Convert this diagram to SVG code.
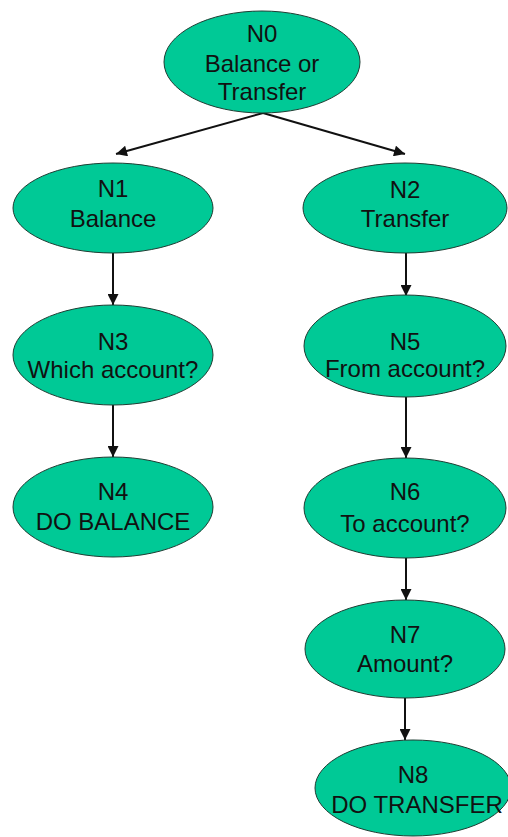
<svg xmlns="http://www.w3.org/2000/svg" width="508" height="837" viewBox="0 0 508 837">
  <style>
    .node ellipse { fill: #00C996; stroke: #1f3d33; stroke-width: 1; }
    .node text { font-family: "Liberation Sans", Arial, sans-serif; font-size: 24px; fill: #111; text-anchor: middle; }
    .edge { stroke: #111; stroke-width: 2; fill: none; marker-end: url(#arrow); }
  </style>
  <defs>
    <marker id="arrow" viewBox="0 0 10 10" refX="10" refY="5" markerWidth="6" markerHeight="5.5" orient="auto" markerUnits="strokeWidth">
      <path d="M0,0 L10,5 L0,10 z" fill="#111"/>
    </marker>
  </defs>
  <rect width="508" height="837" fill="#fff"/>

  <g id="connectors">
    <line class="edge" x1="263" y1="113" x2="116" y2="154"/>
    <line class="edge" x1="263" y1="113" x2="405" y2="154"/>
    <line class="edge" x1="113" y1="253" x2="113" y2="305"/>
    <line class="edge" x1="113" y1="405" x2="113" y2="457"/>
    <line class="edge" x1="406" y1="253" x2="406" y2="296"/>
    <line class="edge" x1="406" y1="397" x2="406" y2="458"/>
    <line class="edge" x1="406" y1="557" x2="406" y2="600"/>
    <line class="edge" x1="405" y1="698" x2="405" y2="740"/>
  </g>

  <g id="N0" class="node">
    <ellipse cx="262" cy="62" rx="98" ry="51"/>
    <text x="262" y="42">N0</text>
    <text x="262" y="72">Balance or</text>
    <text x="262" y="100">Transfer</text>
  </g>
  <g id="N1" class="node">
    <ellipse cx="113" cy="208" rx="100" ry="45"/>
    <text x="113" y="197">N1</text>
    <text x="113" y="227">Balance</text>
  </g>
  <g id="N2" class="node">
    <ellipse cx="405" cy="208" rx="102" ry="45"/>
    <text x="405" y="198">N2</text>
    <text x="405" y="227">Transfer</text>
  </g>
  <g id="N3" class="node">
    <ellipse cx="113" cy="355" rx="100" ry="50"/>
    <text x="113" y="350">N3</text>
    <text x="113" y="378">Which account?</text>
  </g>
  <g id="N4" class="node">
    <ellipse cx="113" cy="507" rx="100" ry="50"/>
    <text x="113" y="500">N4</text>
    <text x="113" y="530">DO BALANCE</text>
  </g>
  <g id="N5" class="node">
    <ellipse cx="405" cy="346" rx="101" ry="51"/>
    <text x="405" y="350">N5</text>
    <text x="405" y="377">From account?</text>
  </g>
  <g id="N6" class="node">
    <ellipse cx="405" cy="508" rx="101" ry="50"/>
    <text x="405" y="500">N6</text>
    <text x="405" y="532">To account?</text>
  </g>
  <g id="N7" class="node">
    <ellipse cx="405" cy="649" rx="100" ry="49"/>
    <text x="405" y="643">N7</text>
    <text x="405" y="672">Amount?</text>
  </g>
  <g id="N8" class="node">
    <ellipse cx="413" cy="788" rx="98" ry="48"/>
    <text x="413" y="783">N8</text>
    <text x="417" y="813">DO TRANSFER</text>
  </g>
</svg>
